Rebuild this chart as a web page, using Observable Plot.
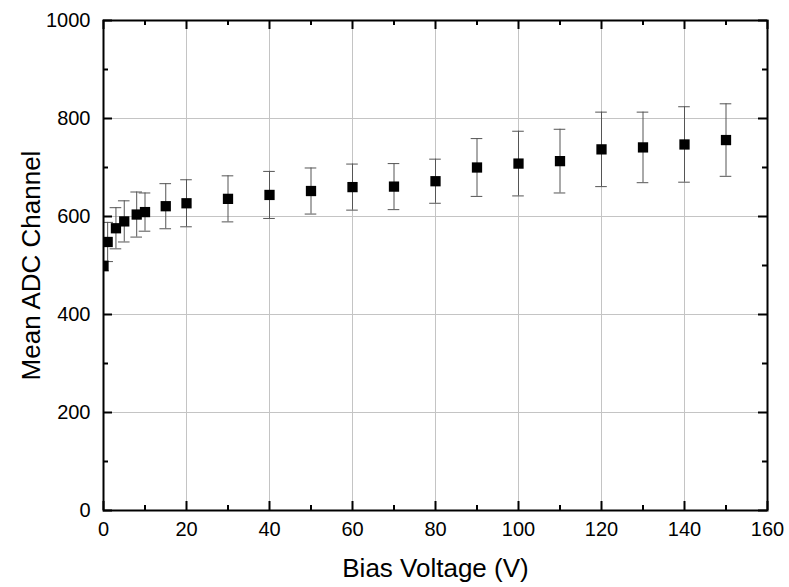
<!DOCTYPE html>
<html>
<head>
<meta charset="utf-8">
<script src="https://cdn.jsdelivr.net/npm/d3@7"></script>
<script src="https://cdn.jsdelivr.net/npm/@observablehq/plot@0.6"></script>
<style>
  html, body { margin: 0; padding: 0; background: #fff; }
  #chart svg { font-family: "Liberation Sans", Arial, Helvetica, sans-serif; }
</style>
</head>
<body>
<div id="chart"></div>
<script>
// Data
const voltage = [0, 1, 3, 5, 8, 10, 15, 20, 30, 40, 50, 60, 70, 80, 90, 100, 110, 120, 130, 140, 150];
const meanADC = [499, 548, 576, 590, 604, 609, 621, 627, 636, 644, 652, 660, 661, 672, 700, 708, 713, 737, 741, 747, 756];
const errADC  = [10, 40, 42, 42, 46, 39, 46, 48, 47, 48, 47, 47, 47, 45, 59, 66, 65, 76, 72, 77, 74];

const xTicks = [0, 20, 40, 60, 80, 100, 120, 140, 160];
const xMinor = [10, 30, 50, 70, 90, 110, 130, 150];
const yTicks = [0, 200, 400, 600, 800, 1000];
const yMinor = [100, 300, 500, 700, 900];

const data = voltage.map((v, i) => ({x: v, y: meanADC[i], lo: meanADC[i] - errADC[i], hi: meanADC[i] + errADC[i]}));

const W = 789, H = 587;
const mL = 103, mR = 22, mT = 20, mB = 77;
const pw = W - mL - mR, ph = H - mT - mB;
const major = 9, minor = 5;
const capHalf = 1.4;

const chart = Plot.plot({
  width: W,
  height: H,
  marginLeft: mL,
  marginRight: mR,
  marginTop: mT,
  marginBottom: mB,
  style: {background: "white", fontFamily: "'Liberation Sans', Arial, sans-serif", overflow: "visible"},
  x: {domain: [0, 160]},
  y: {domain: [0, 1000]},
  marks: [
    // grid
    Plot.ruleX(xTicks.slice(1, -1), {x: d => d, stroke: "#c4c4c4", strokeWidth: 1}),
    Plot.ruleY(yTicks.slice(1, -1), {y: d => d, stroke: "#c4c4c4", strokeWidth: 1}),
    // error bars
    Plot.ruleX(data, {x: "x", y1: "lo", y2: "hi", stroke: "#555", strokeWidth: 1, clip: true}),
    Plot.ruleY(data, {y: "hi", x1: d => d.x - capHalf, x2: d => d.x + capHalf, stroke: "#555", strokeWidth: 1, clip: true}),
    Plot.ruleY(data, {y: "lo", x1: d => d.x - capHalf, x2: d => d.x + capHalf, stroke: "#555", strokeWidth: 1, clip: true}),
    // points
    Plot.dot(data, {x: "x", y: "y", symbol: "square", r: 5.8, fill: "black", stroke: "none", clip: true}),
    // inward ticks: bottom & top
    Plot.tickX(xTicks, {x: d => d, insetTop: ph - major, stroke: "black", strokeWidth: 2}),
    Plot.tickX(xMinor, {x: d => d, insetTop: ph - minor, stroke: "black", strokeWidth: 2}),
    Plot.tickX(xTicks, {x: d => d, insetBottom: ph - major, stroke: "black", strokeWidth: 2}),
    Plot.tickX(xMinor, {x: d => d, insetBottom: ph - minor, stroke: "black", strokeWidth: 2}),
    // inward ticks: left & right
    Plot.tickY(yTicks, {y: d => d, insetRight: pw - major, stroke: "black", strokeWidth: 2}),
    Plot.tickY(yMinor, {y: d => d, insetRight: pw - minor, stroke: "black", strokeWidth: 2}),
    Plot.tickY(yTicks, {y: d => d, insetLeft: pw - major, stroke: "black", strokeWidth: 2}),
    Plot.tickY(yMinor, {y: d => d, insetLeft: pw - minor, stroke: "black", strokeWidth: 2}),
    // frame
    Plot.frame({stroke: "black", strokeWidth: 2}),
    // tick labels
    Plot.axisX({ticks: xTicks, tickSize: 0, tickPadding: 11, fontSize: 20, label: null, tickFormat: d => String(d)}),
    Plot.axisY({ticks: yTicks, tickSize: 0, tickPadding: 13, fontSize: 20, label: null, tickFormat: d => String(d)}),
    // axis titles
    Plot.text(["Bias Voltage (V)"], {frameAnchor: "bottom", dy: 58, fontSize: 26, textAnchor: "middle", lineAnchor: "middle", fill: "black"}),
    Plot.text(["Mean ADC Channel"], {frameAnchor: "left", dx: -72, rotate: -90, fontSize: 26, textAnchor: "middle", lineAnchor: "middle", fill: "black"})
  ]
});
document.getElementById("chart").appendChild(chart);
</script>
</body>
</html>
